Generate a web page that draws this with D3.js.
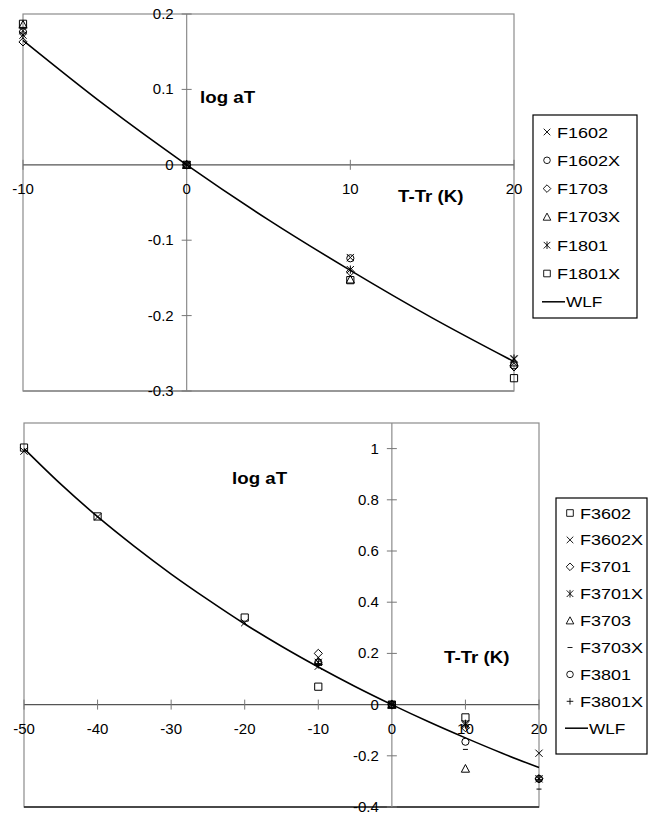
<!DOCTYPE html>
<html>
<head>
<meta charset="utf-8">
<script src="https://cdn.jsdelivr.net/npm/d3@7"></script>
<style>
body { margin: 0; background: #fff; }
text { font-family: Arial, "Liberation Sans", sans-serif; fill: #000; }
</style>
</head>
<body>
<script>
// ---- top chart data ----
var topX = [-10, 0, 10, 20];
var topNames = ["F1602", "F1602X", "F1703", "F1703X", "F1801", "F1801X"];
var topShapes = ["times", "circle", "diamond", "triangle", "asterisk", "square"];
var F1602  = [0.178, 0, -0.123, -0.258];
var F1602X = [0.176, 0, -0.124, -0.266];
var F1703  = [0.163, 0, -0.142, -0.268];
var F1703X = [0.186, 0, -0.152, -0.262];
var F1801  = [0.172, 0, -0.139, -0.257];
var F1801X = [0.187, 0, -0.153, -0.283];
var topWlfX = [-10, -5, 0, 5, 10, 15, 20];
var topWlfY = [0.165, 0.079, 0, -0.073, -0.140, -0.203, -0.261];
var topXTicks = [-10, 0, 10, 20];
var topYTicks = [0.2, 0.1, 0, -0.1, -0.2, -0.3];

// ---- bottom chart data ----
var botX = [-50, -40, -20, -10, 0, 10, 20];
var botNames = ["F3602", "F3602X", "F3701", "F3701X", "F3703", "F3703X", "F3801", "F3801X"];
var botShapes = ["square", "times", "diamond", "asterisk", "triangle", "dash", "circle", "plus"];
var F3602  = [1.004, 0.735, 0.34, 0.07, 0, -0.05, null];
var F3602X = [0.99, 0.733, 0.32, 0.15, 0, -0.08, -0.19];
var F3701  = [null, null, null, 0.20, 0, -0.09, -0.29];
var F3701X = [null, null, null, 0.165, 0, -0.075, -0.29];
var F3703  = [null, null, null, 0.17, 0, -0.25, null];
var F3703X = [null, null, null, 0.16, 0, -0.175, -0.33];
var F3801  = [null, null, null, 0.165, 0, -0.145, -0.29];
var F3801X = [null, null, null, 0.155, 0, -0.08, -0.292];
var botWlfX = [-50, -45, -40, -35, -30, -25, -20, -15, -10, -5, 0, 5, 10, 15, 20];
var botWlfY = [1.0, 0.861, 0.734, 0.618, 0.510, 0.41, 0.315, 0.228, 0.147, 0.071, 0, -0.067, -0.13, -0.19, -0.246];
var botXTicks = [-50, -40, -30, -20, -10, 0, 10, 20];
var botYTicks = [1, 0.8, 0.6, 0.4, 0.2, 0, -0.2, -0.4];

var svg = d3.select("body").append("svg").attr("width", 649).attr("height", 814);

function markerPath(shape, r) {
    switch (shape) {
        case "times": return "M" + (-r) + "," + (-r) + "L" + r + "," + r + "M" + (-r) + "," + r + "L" + r + "," + (-r);
        case "plus": return "M" + (-r) + ",0L" + r + ",0M0," + (-r) + "L0," + r;
        case "asterisk": return "M" + (-r) + "," + (-r) + "L" + r + "," + r + "M" + (-r) + "," + r + "L" + r + "," + (-r) + "M0," + (-r - 0.5) + "L0," + (r + 0.5);
        case "square": return "M" + (-r) + "," + (-r) + "H" + r + "V" + r + "H" + (-r) + "Z";
        case "diamond": return "M0," + (-r - 0.5) + "L" + (r + 0.5) + ",0L0," + (r + 0.5) + "L" + (-r - 0.5) + ",0Z";
        case "triangle": return "M0," + (-r - 0.5) + "L" + (r + 0.5) + "," + r + "L" + (-r - 0.5) + "," + r + "Z";
        case "dash": return "M-2.5,0L2.5,0";
        case "circle": return "M" + r + ",0A" + r + "," + r + " 0 1,1 " + (-r) + ",0A" + r + "," + r + " 0 1,1 " + r + ",0Z";
    }
}

// plain hyphen for negatives, like the original
function fmt(d) { return String(+d.toFixed(1)); }

// stretched text (the original lettering is wider than it is tall)
function wideText(g, x, y, size, weight, str, sx) {
    return g.append("text")
        .attr("transform", "translate(" + x + "," + y + ") scale(" + sx + ",1)")
        .attr("font-size", size).attr("font-weight", weight).text(str);
}

function drawChart(cfg) {
    var g = svg.append("g");
    var x = d3.scaleLinear().domain(cfg.xDomain).range([cfg.left, cfg.right]);
    var y = d3.scaleLinear().domain(cfg.yDomain).range([cfg.bottom, cfg.top]);

    // frame
    g.append("rect").attr("x", cfg.left).attr("y", cfg.top)
        .attr("width", cfg.right - cfg.left).attr("height", cfg.bottom - cfg.top)
        .attr("fill", "none").attr("stroke", "#8c8c8c").attr("stroke-width", 1.2);
    g.append("line").attr("x1", cfg.left).attr("x2", cfg.right).attr("y1", cfg.bottom).attr("y2", cfg.bottom)
        .attr("stroke", cfg.bottomColor).attr("stroke-width", 1.4);

    // zero axes
    g.append("line").attr("x1", cfg.left).attr("x2", cfg.right).attr("y1", y(0)).attr("y2", y(0))
        .attr("stroke", "#555").attr("stroke-width", 1.2);
    g.append("line").attr("x1", x(0)).attr("x2", x(0)).attr("y1", cfg.top).attr("y2", cfg.bottom)
        .attr("stroke", "#8c8c8c").attr("stroke-width", 1.2);

    // cross ticks
    g.selectAll(".xt").data(cfg.xTicks).enter().append("line")
        .attr("x1", function(d){ return x(d); }).attr("x2", function(d){ return x(d); })
        .attr("y1", y(0) - 5).attr("y2", y(0) + 5).attr("stroke", "#777");
    g.selectAll(".yt").data(cfg.yTicks).enter().append("line")
        .attr("x1", x(0) - 5).attr("x2", x(0) + 5)
        .attr("y1", function(d){ return y(d); }).attr("y2", function(d){ return y(d); }).attr("stroke", "#777");

    g.selectAll(".xl").data(cfg.xTicks).enter().append("text")
        .attr("x", function(d){ return x(d); }).attr("y", y(0) + 29)
        .attr("text-anchor", "middle").attr("font-size", 15)
        .text(fmt);
    g.selectAll(".yl").data(cfg.yTicks).enter().append("text")
        .attr("x", x(0) - 13).attr("y", function(d){ return y(d) + 5; })
        .attr("text-anchor", "end").attr("font-size", 15)
        .text(fmt);

    // axis titles
    wideText(g, cfg.yTitle[0], cfg.yTitle[1], 16, "bold", "log aT", 1.17);
    wideText(g, cfg.xTitle[0], cfg.xTitle[1], 16, "bold", "T-Tr (K)", 1.17);

    // WLF line
    var line = d3.line().curve(d3.curveMonotoneX)
        .x(function(d){ return x(d[0]); }).y(function(d){ return y(d[1]); });
    g.append("path").datum(d3.zip(cfg.wlfX, cfg.wlfY)).attr("d", line)
        .attr("fill", "none").attr("stroke", "#000").attr("stroke-width", 1.6);

    // markers
    cfg.series.forEach(function(s, i) {
        var pts = cfg.xs.map(function(xv, j){ return [xv, s[j]]; })
            .filter(function(p){ return p[1] !== null; });
        g.selectAll(null).data(pts).enter().append("path")
            .attr("transform", function(d){ return "translate(" + x(d[0]) + "," + y(d[1]) + ")"; })
            .attr("d", markerPath(cfg.shapes[i], 3.6))
            .attr("fill", "none").attr("stroke", "#000").attr("stroke-width", 1);
    });

    // legend
    var L = cfg.legend;
    g.append("rect").attr("x", L.x).attr("y", L.y).attr("width", L.w).attr("height", L.h)
        .attr("fill", "#fff").attr("stroke", "#000").attr("stroke-width", 1.2);
    cfg.names.forEach(function(name, i) {
        var cy = L.first + i * L.step;
        g.append("path").attr("transform", "translate(" + (L.x + 14) + "," + cy + ")")
            .attr("d", markerPath(cfg.shapes[i], 3.3))
            .attr("fill", "none").attr("stroke", "#000").attr("stroke-width", 0.9);
        wideText(g, L.x + 24, cy + 5.5, 15, "normal", name, 1.2);
    });
    var wy = L.first + cfg.names.length * L.step;
    g.append("line").attr("x1", L.x + 9).attr("x2", L.x + 32).attr("y1", wy).attr("y2", wy)
        .attr("stroke", "#000").attr("stroke-width", 1.5);
    wideText(g, L.x + 33, wy + 5.5, 15, "normal", "WLF", 1.15);
}

drawChart({
    left: 23, right: 514, top: 14, bottom: 391, bottomColor: "#8c8c8c",
    xDomain: [-10, 20], yDomain: [-0.3, 0.2],
    xTicks: topXTicks, yTicks: topYTicks,
    xs: topX, series: [F1602, F1602X, F1703, F1703X, F1801, F1801X],
    names: topNames, shapes: topShapes,
    wlfX: topWlfX, wlfY: topWlfY,
    yTitle: [200, 103], xTitle: [398, 202],
    legend: { x: 533, y: 115, w: 104, h: 203, first: 132, step: 28.3 }
});

drawChart({
    left: 24, right: 539, top: 423, bottom: 807, bottomColor: "#222",
    xDomain: [-50, 20], yDomain: [-0.4, 1.1],
    xTicks: botXTicks, yTicks: botYTicks,
    xs: botX, series: [F3602, F3602X, F3701, F3701X, F3703, F3703X, F3801, F3801X],
    names: botNames, shapes: botShapes,
    wlfX: botWlfX, wlfY: botWlfY,
    yTitle: [232, 484], xTitle: [444, 663],
    legend: { x: 556, y: 498, w: 91, h: 256, first: 513, step: 26.9 }
});
</script>
</body>
</html>
